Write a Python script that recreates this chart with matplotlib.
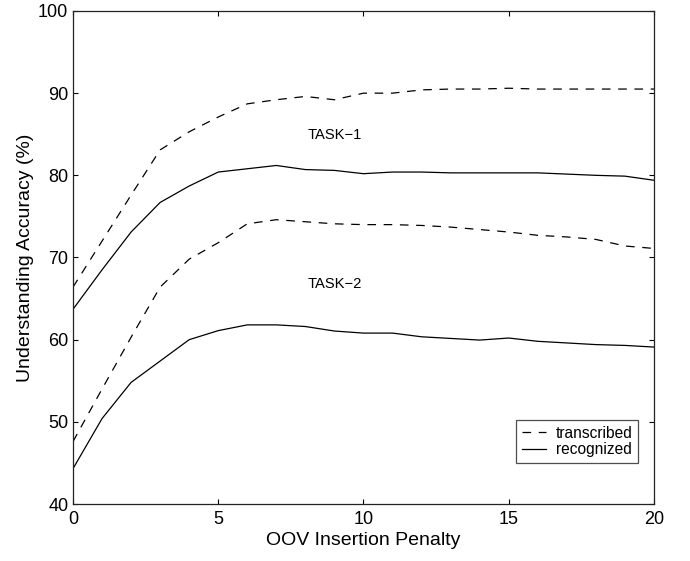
import matplotlib
matplotlib.use("Agg")
import matplotlib.pyplot as plt
import numpy as np

plt.rcParams['font.family'] = ['Liberation Sans', 'DejaVu Sans']
plt.rcParams['lines.scale_dashes'] = False

# Data
penalty = list(range(0, 21))
task1_transcribed = [66.4, 72.0, 77.6, 83.1, 85.3, 87.1, 88.7, 89.2, 89.6, 89.2, 90.0,
                     90.0, 90.4, 90.5, 90.5, 90.6, 90.5, 90.5, 90.5, 90.5, 90.5]
task1_recognized = [63.7, 68.5, 73.1, 76.7, 78.7, 80.4, 80.8, 81.2, 80.7, 80.6, 80.2,
                    80.4, 80.4, 80.3, 80.3, 80.3, 80.3, 80.15, 80.0, 79.9, 79.4]
task2_transcribed = [47.6, 54.0, 60.3, 66.4, 69.8, 71.8, 74.1, 74.6, 74.35, 74.1, 74.0,
                     74.0, 73.9, 73.7, 73.4, 73.1, 72.7, 72.5, 72.2, 71.4, 71.1]
task2_recognized = [44.3, 50.4, 54.8, 57.4, 60.0, 61.1, 61.8, 61.8, 61.6, 61.05, 60.8,
                    60.8, 60.35, 60.15, 59.95, 60.2, 59.8, 59.6, 59.4, 59.3, 59.1]

xticks = [0, 5, 10, 15, 20]
yticks = [40, 50, 60, 70, 80, 90, 100]
legend_labels = ["transcribed", "recognized"]
task_labels = ["TASK\u22121", "TASK\u22122"]
task_label_pos = [(9.0, 84.9), (9.0, 66.8)]

fig = plt.figure(figsize=(6.9, 5.61), dpi=100)
ax = fig.add_axes([0.1058, 0.1016, 0.8420, 0.8788])

dash = (0, (6.2, 5.5))
lw = 0.9
l1, = ax.plot(penalty, task1_transcribed, color='black', lw=lw, linestyle=dash)
l2, = ax.plot(penalty, task1_recognized, color='black', lw=lw, linestyle='-')
ax.plot(penalty, task2_transcribed, color='black', lw=lw, linestyle=dash)
ax.plot(penalty, task2_recognized, color='black', lw=lw, linestyle='-')

for lab, (x, y) in zip(task_labels, task_label_pos):
    ax.text(x, y, lab, fontsize=10.6, ha='center', va='center')

ax.set_xlim(0, 20)
ax.set_ylim(40, 100)
ax.set_xticks(xticks)
ax.set_yticks(yticks)
ax.tick_params(direction='in', top=True, right=True, length=3.6, width=0.8,
               labelsize=13, pad=5)
ax.tick_params(axis='y', pad=3.4)
for s in ax.spines.values():
    s.set_linewidth(0.9)
    s.set_color('#222222')

ax.set_xlabel("OOV Insertion Penalty", fontsize=14, labelpad=3)
ax.set_ylabel("Understanding Accuracy (%)", fontsize=14, labelpad=3)

leg = ax.legend([l1, l2], legend_labels, loc='lower right',
                bbox_to_anchor=(0.9725, 0.0838), borderaxespad=0,
                fontsize=11.2, handlelength=1.6, handletextpad=0.6,
                labelspacing=0.1, borderpad=0.35, fancybox=False, frameon=True)
leg.get_frame().set_edgecolor('#222222')
leg.get_frame().set_linewidth(0.9)

fig.savefig("out.png", dpi=100)
